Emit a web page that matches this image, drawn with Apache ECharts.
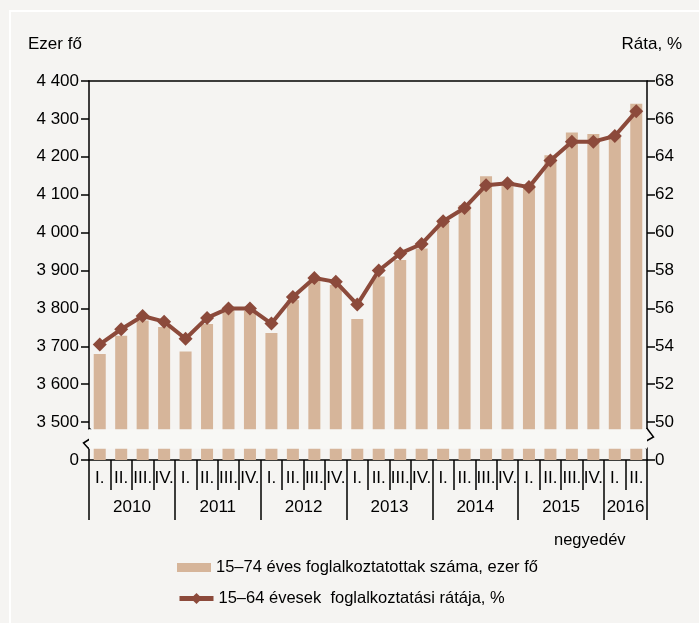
<!DOCTYPE html>
<html>
<head>
<meta charset="utf-8">
<script src="https://cdn.jsdelivr.net/npm/echarts@6.0.0/dist/echarts.min.js"></script>
<style>
html,body{margin:0;padding:0;background:#f5f4f2;}
#c{width:699px;height:623px;}
</style>
</head>
<body>
<div id="c"></div>
<script>
const quarters = ['I.','II.','III.','IV.','I.','II.','III.','IV.','I.','II.','III.','IV.','I.','II.','III.','IV.','I.','II.','III.','IV.','I.','II.','III.','IV.','I.','II.'];
const years = ['2010','2011','2012','2013','2014','2015','2016'];
const employed = [3680,3728,3768,3751,3686,3759,3795,3793,3735,3822,3872,3862,3772,3884,3928,3958,4029,4072,4149,4134,4127,4204,4264,4260,4258,4340];
const rate = [54.1,54.9,55.6,55.3,54.4,55.5,56.0,56.0,55.2,56.6,57.6,57.4,56.2,58.0,58.9,59.4,60.6,61.3,62.5,62.6,62.4,63.8,64.8,64.8,65.1,66.4];
const leftTicks = [0,3500,3600,3700,3800,3900,4000,4100,4200,4300,4400];
const rightTicks = [0,50,52,54,56,58,60,62,64,66,68];
const yearBounds = [0,4,8,12,16,20,24,26];
const yearCenters = [2,6,10,14,18,22,25];
const seriesNames = ['15–74 éves foglalkoztatottak száma, ezer fő','15–64 évesek  foglalkoztatási rátája, %'];

const FONT = '"Liberation Sans",Arial,sans-serif';
const BLACK = '#000';
const BAR = '#d6b59a';
const LINE = '#8c4a3b';
const FS = 17;

const chart = echarts.init(document.getElementById('c'), null, {renderer:'canvas'});
const axisLine = {show:true, lineStyle:{color:BLACK, width:1.5}};
const tickStyle = {color:BLACK, width:1.5};
const fmt = v => String(v).replace(/\B(?=(\d{3})+(?!\d))/g, ' ');
const breakStyle = {show:true, zigzagAmplitude:0, zigzagMinSpan:6, zigzagMaxSpan:12,
  itemStyle:{color:'#f8f8f5', borderColor:'#f8f8f5', borderWidth:0, opacity:1}, expandOnClick:false};

chart.setOption({
  backgroundColor:'#f5f4f2',
  animation:false,
  textStyle:{fontFamily:FONT},
  grid:{left:89, right:52, top:81, bottom:163, containLabel:false},
  graphic:[
    {type:'rect', shape:{x:10,y:11,width:720,height:700}, style:{fill:'none', stroke:'#ffffff', lineWidth:2}, silent:true},
    {type:'text', left:28, top:36, style:{text:'Ezer fő', font:FS+'px '+FONT, fill:BLACK}},
    {type:'text', right:17, top:36, style:{text:'Ráta, %', font:FS+'px '+FONT, fill:BLACK}},
    {type:'text', left:554, top:532, style:{text:'negyedév', font:'16.5px '+FONT, fill:BLACK}},
    {type:'polyline', z:100, shape:{points:[[89,428],[96,435],[83.5,443],[89,449]]}, style:{stroke:BLACK, lineWidth:1.5, fill:'none'}},
    {type:'polyline', z:100, shape:{points:[[646.7,428],[653.5,437],[641,444],[646.7,449]]}, style:{stroke:BLACK, lineWidth:1.5, fill:'none'}}
  ],
  legend:[
    {data:[seriesNames[0]], left:172, top:554, itemWidth:34, itemHeight:9, icon:'rect',
     textStyle:{fontFamily:FONT, fontSize:16.5, color:BLACK}},
    {data:[seriesNames[1]], left:172, top:585, itemWidth:34, itemHeight:14, lineStyle:{width:5},
     textStyle:{fontFamily:FONT, fontSize:16.5, color:BLACK}}
  ],
  xAxis:[
    {type:'category', data:quarters, position:'bottom', boundaryGap:true,
     axisLine:axisLine,
     axisTick:{show:true, interval:0, length:30, lineStyle:tickStyle},
     axisLabel:{interval:0, margin:10, fontSize:FS, color:BLACK, fontFamily:FONT},
     splitLine:{show:false}},
    {type:'value', min:0, max:26, position:'bottom',
     axisLine:{show:false},
     axisTick:{show:true, length:60, customValues:yearBounds, lineStyle:tickStyle},
     axisLabel:{show:true, customValues:yearCenters, margin:39, fontSize:FS, color:BLACK, fontFamily:FONT,
       formatter:(v)=>years[yearCenters.indexOf(v)]},
     splitLine:{show:false}},
    {type:'category', data:quarters, position:'top',
     axisLine:axisLine, axisTick:{show:false}, axisLabel:{show:false}, splitLine:{show:false}}
  ],
  yAxis:[
    {type:'value', min:0, max:4400, position:'left',
     breaks:[{start:32, end:3482, gap:50}],
     breakArea:breakStyle,
     axisLine:axisLine,
     axisTick:{show:true, length:8, customValues:leftTicks, lineStyle:tickStyle},
     axisLabel:{customValues:leftTicks, margin:10, fontSize:FS, color:BLACK, fontFamily:FONT, formatter:fmt},
     splitLine:{show:false}},
    {type:'value', min:0, max:68, position:'right',
     breaks:[{start:0.6316, end:49.6316, gap:1}],
     breakArea:breakStyle,
     axisLine:axisLine,
     axisTick:{show:true, length:8, customValues:rightTicks, lineStyle:tickStyle},
     axisLabel:{customValues:rightTicks, margin:8, fontSize:FS, color:BLACK, fontFamily:FONT},
     splitLine:{show:false}}
  ],
  series:[
    {name:seriesNames[0], type:'bar', xAxisIndex:0, yAxisIndex:0, data:employed, barWidth:'56%',
     itemStyle:{color:BAR}},
    {name:seriesNames[1], type:'line', xAxisIndex:0, yAxisIndex:1, data:rate,
     symbol:'diamond', symbolSize:14, showSymbol:true,
     lineStyle:{color:LINE, width:4}, itemStyle:{color:LINE}, z:5}
  ]
});
</script>
</body>
</html>
